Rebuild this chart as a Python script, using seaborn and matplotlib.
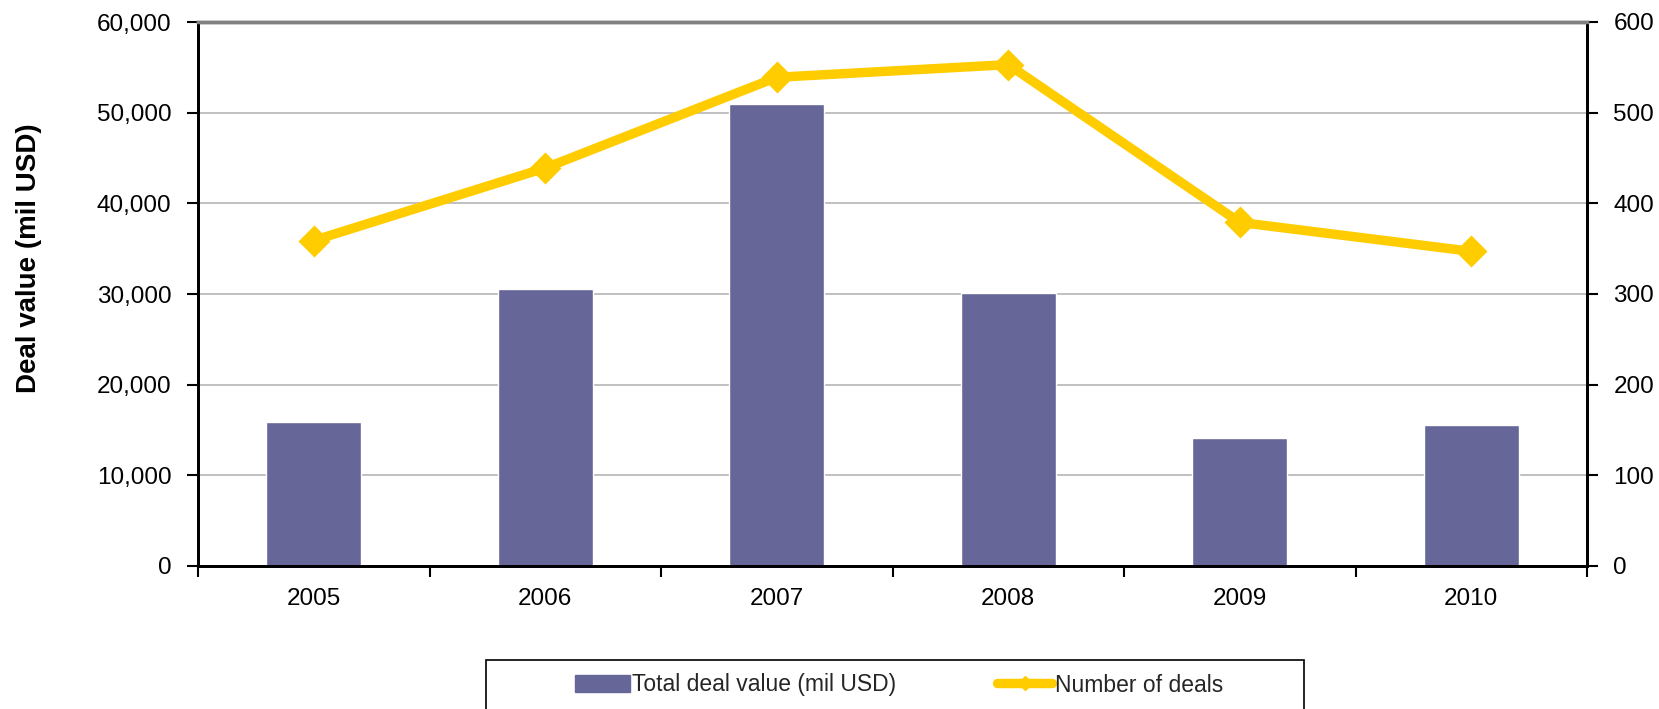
import matplotlib
matplotlib.use("Agg")
import matplotlib.pyplot as plt
import matplotlib.ticker as mticker
from matplotlib.patches import Rectangle, Patch
from matplotlib.lines import Line2D
import seaborn as sns
import pandas as pd

sns.set_theme(style="white")
plt.rcParams["font.family"] = ["Liberation Sans", "DejaVu Sans"]

years = ["2005", "2006", "2007", "2008", "2009", "2010"]
deal_value = [15900, 30600, 51000, 30100, 14100, 15500]
deal_count = [359, 439, 539, 553, 379, 347]

BAR_COLOR = "#666699"
LINE_COLOR = "#FFCC00"

df = pd.DataFrame({"year": years, "value": deal_value, "deals": deal_count})

fig = plt.figure(figsize=(16.59, 7.09), dpi=100)
ax = fig.add_axes([198 / 1659, 1 - 566 / 709, 1389 / 1659, 544 / 709])

sns.barplot(data=df, x="year", y="value", color=BAR_COLOR, width=0.41,
            saturation=1, ax=ax, zorder=2)
ax.set_ylim(0, 60000)
ax.set_xlim(-0.5, len(years) - 0.5)
ax.yaxis.set_major_locator(mticker.MultipleLocator(10000))
ax.yaxis.set_major_formatter(mticker.StrMethodFormatter("{x:,.0f}"))
ax.grid(axis="y", color="#c0c0c0", linewidth=1.4, zorder=0)
ax.set_axisbelow(True)

ax2 = ax.twinx()
sns.pointplot(data=df, x="year", y="deals", color=LINE_COLOR, markers="D",
              linewidth=6.8, markersize=11, ax=ax2)
ax2.set_ylim(0, 600)
ax2.set_xlim(-0.5, len(years) - 0.5)
ax2.yaxis.set_major_locator(mticker.MultipleLocator(100))
ax2.set_ylabel("")

# category ticks on boundaries, labels in the middle
ax.set_xticks(range(len(years)))
ax.set_xticklabels(years)
ax.set_xticks([i - 0.5 for i in range(len(years) + 1)], minor=True)
ax.tick_params(axis="x", which="major", length=0, pad=16, labelsize=17.5, colors="black")
ax.tick_params(axis="x", which="minor", length=8, width=1.5, direction="out", bottom=True, color="black")
ax.tick_params(axis="y", length=8, width=1.5, direction="out", left=True, pad=11,
               labelsize=17.5, colors="black")
ax2.tick_params(axis="y", length=8, width=1.5, direction="out", right=True, pad=11,
                labelsize=17.5, colors="black")

ax.set_xlabel("")
ax.set_ylabel("Deal value (mil USD)", fontsize=20, fontweight="bold", color="black")
ax.yaxis.set_label_coords(-0.1123, 0.565)

for a in (ax, ax2):
    a.spines["left"].set_color("black")
    a.spines["bottom"].set_color("black")
    a.spines["right"].set_color("black")
    a.spines["top"].set_color("#808080")
    a.spines["left"].set_linewidth(2)
    a.spines["bottom"].set_linewidth(2)
    a.spines["right"].set_linewidth(2)
    a.spines["top"].set_linewidth(2.5)

# legend box below the plot (runs past the bottom edge like the source)
fig.patches.append(Rectangle((486 / 1659, -0.1), 818 / 1659, 0.1 + (1 - 660 / 709),
                             transform=fig.transFigure, fill=False,
                             edgecolor="black", linewidth=1.2))
handles = [Patch(facecolor=BAR_COLOR, edgecolor=BAR_COLOR),
           Line2D([], [], color=LINE_COLOR, linewidth=6.8, marker="D", markersize=7)]
fig.legend(handles, ["Total deal value (mil USD)", "Number of deals"],
           loc="center", bbox_to_anchor=(899 / 1659, 1 - 685 / 709), ncol=2,
           frameon=False, fontsize=16.5, handlelength=2.4, handleheight=0.74,
           handletextpad=0.1, columnspacing=4.4)

fig.savefig("out.png", dpi=100)
